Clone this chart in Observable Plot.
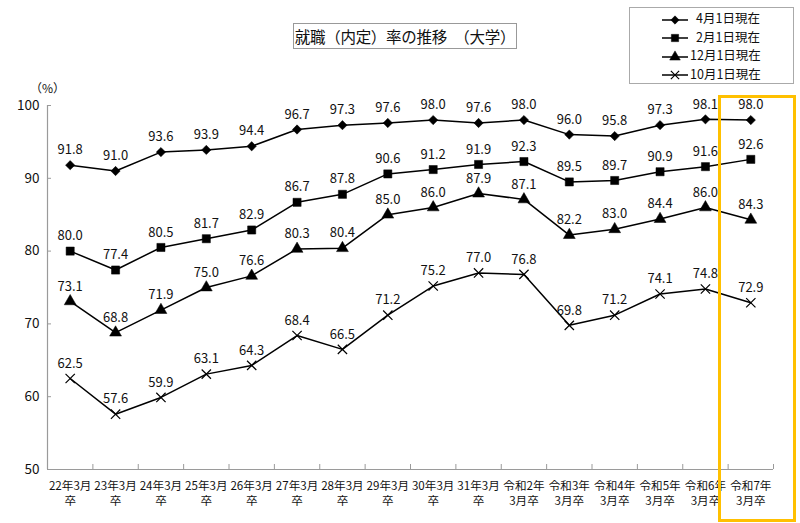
<!DOCTYPE html>
<html>
<head>
<meta charset="utf-8">
<script src="https://cdn.jsdelivr.net/npm/d3@7"></script>
<script src="https://cdn.jsdelivr.net/npm/@observablehq/plot@0.6"></script>
<style>
  html, body { margin: 0; padding: 0; background: #fff; }
  body { font-family: "Noto Sans CJK JP", "Noto Sans", sans-serif; }
  #wrap { position: relative; width: 800px; height: 523px; overflow: hidden; }
  #title { position: absolute; left: 293px; top: 23px; width: 222px; height: 24px;
    border: 1px solid #999; font-size: 15.5px; line-height: 24px; text-align: center; color: #111; white-space: nowrap; letter-spacing: -0.3px; }
  #legend { position: absolute; left: 629px; top: 7px; width: 163px; height: 75px;
    border: 1px solid #aaa; background: #fff; }
  .lg { position: absolute; left: 0; height: 19px; font-size: 12.5px; line-height: 19px; color: #111; white-space: nowrap; }
  .lg svg { vertical-align: middle; }
  #hl { position: absolute; left: 718px; top: 95px; width: 72px; height: 421px; border: 3px solid #FFC000; }
  #unit { position: absolute; left: 30px; top: 79px; font-size: 12px; color: #111; }
</style>
</head>
<body>
<div id="wrap"></div>
<script>
const categories = [
  "22年3月\n卒","23年3月\n卒","24年3月\n卒","25年3月\n卒","26年3月\n卒",
  "27年3月\n卒","28年3月\n卒","29年3月\n卒","30年3月\n卒","31年3月\n卒",
  "令和2年\n3月卒","令和3年\n3月卒","令和4年\n3月卒","令和5年\n3月卒","令和6年\n3月卒","令和7年\n3月卒"
];
const seriesNames = ["4月1日現在","2月1日現在","12月1日現在","10月1日現在"];
const apr1 = [91.8, 91.0, 93.6, 93.9, 94.4, 96.7, 97.3, 97.6, 98.0, 97.6, 98.0, 96.0, 95.8, 97.3, 98.1, 98.0];
const feb1 = [80.0, 77.4, 80.5, 81.7, 82.9, 86.7, 87.8, 90.6, 91.2, 91.9, 92.3, 89.5, 89.7, 90.9, 91.6, 92.6];
const dec1 = [73.1, 68.8, 71.9, 75.0, 76.6, 80.3, 80.4, 85.0, 86.0, 87.9, 87.1, 82.2, 83.0, 84.4, 86.0, 84.3];
const oct1 = [62.5, 57.6, 59.9, 63.1, 64.3, 68.4, 66.5, 71.2, 75.2, 77.0, 76.8, 69.8, 71.2, 74.1, 74.8, 72.9];
const yTicks = [50, 60, 70, 80, 90, 100];

const seriesValues = [apr1, feb1, dec1, oct1];
const symbols = ["diamond2", "square", "triangle", "times"];
const radii = [4.2, 4.6, 4.4, 4.3];

const rows = [];
seriesValues.forEach((vals, s) => vals.forEach((v, i) => rows.push({series: seriesNames[s], s, i, v})));

const font = '"Noto Sans CJK JP", "Noto Sans", sans-serif';
const gray = "#9a9a9a";

const marks = [
  Plot.ruleY([50], {x1: -0.5, x2: 15.5, stroke: gray, strokeWidth: 1.2}),
  Plot.ruleX([-0.5], {y1: 50, y2: 100, stroke: gray, strokeWidth: 1.2}),
  Plot.axisX({ticks: d3.range(17).map(k => k - 0.5), tickSize: -5, tickFormat: () => "", stroke: gray, label: null}),
  Plot.axisX({ticks: d3.range(16), tickSize: 0, tickPadding: 10, tickFormat: i => categories[i],
    fontSize: 11.6, lineHeight: 1.3, fill: "#111", label: null}),
  Plot.axisY({ticks: yTicks, tickSize: -4, tickPadding: 12, stroke: gray, fontSize: 13.5, fill: "#111", label: null}),
];
seriesValues.forEach((vals, s) => {
  const data = rows.filter(d => d.s === s);
  marks.push(Plot.line(data, {x: "i", y: "v", stroke: "#000", strokeWidth: 1.5}));
  marks.push(Plot.dot(data, {x: "i", y: "v", symbol: () => symbols[s], r: radii[s],
    fill: s === 3 ? "none" : "#000", stroke: "#000", strokeWidth: s === 3 ? 1.2 : 0.5}));
  marks.push(Plot.text(data, {x: "i", y: "v", text: d => d.v.toFixed(1), dy: -15, fontSize: 13, fill: "#111"}));
});

const chart = Plot.plot({
  width: 800, height: 523,
  marginLeft: 47, marginRight: 27, marginTop: 105, marginBottom: 54,
  style: {fontFamily: font, background: "white", overflow: "visible"},
  x: {type: "linear", domain: [-0.5, 15.5], axis: null},
  y: {domain: [50, 100], axis: null},
  marks
});

const wrap = document.getElementById("wrap");
wrap.appendChild(chart);
chart.style.position = "absolute"; chart.style.left = "0"; chart.style.top = "0";

const title = document.createElement("div");
title.id = "title";
title.textContent = "就職（内定）率の推移　（大学）";
wrap.appendChild(title);

const unit = document.createElement("div");
unit.id = "unit";
unit.textContent = "（%）";
wrap.appendChild(unit);

const legend = document.createElement("div");
legend.id = "legend";
seriesNames.forEach((name, s) => {
  const row = document.createElement("div");
  row.className = "lg";
  row.style.top = (s * 18.5) + "px";
  const sym = d3.symbol(
    {diamond2: d3.symbolDiamond2, square: d3.symbolSquare, triangle: d3.symbolTriangle, times: d3.symbolTimes}[symbols[s]],
    Math.PI * radii[s] * radii[s] * 0.8)();
  row.innerHTML = `<svg width="60" height="14"><line x1="32" x2="58" y1="7" y2="7" stroke="#000" stroke-width="1.5"/>` +
    `<path transform="translate(45,7)" d="${sym}" fill="${s===3?'none':'#000'}" stroke="#000" stroke-width="${s===3?1.2:0.5}"/></svg>` +
    `<span style="margin-left:${s < 2 ? 6 : 0}px">${name}</span>`;
  legend.appendChild(row);
});
wrap.appendChild(legend);

const hl = document.createElement("div");
hl.id = "hl";
wrap.appendChild(hl);
</script>
</body>
</html>
